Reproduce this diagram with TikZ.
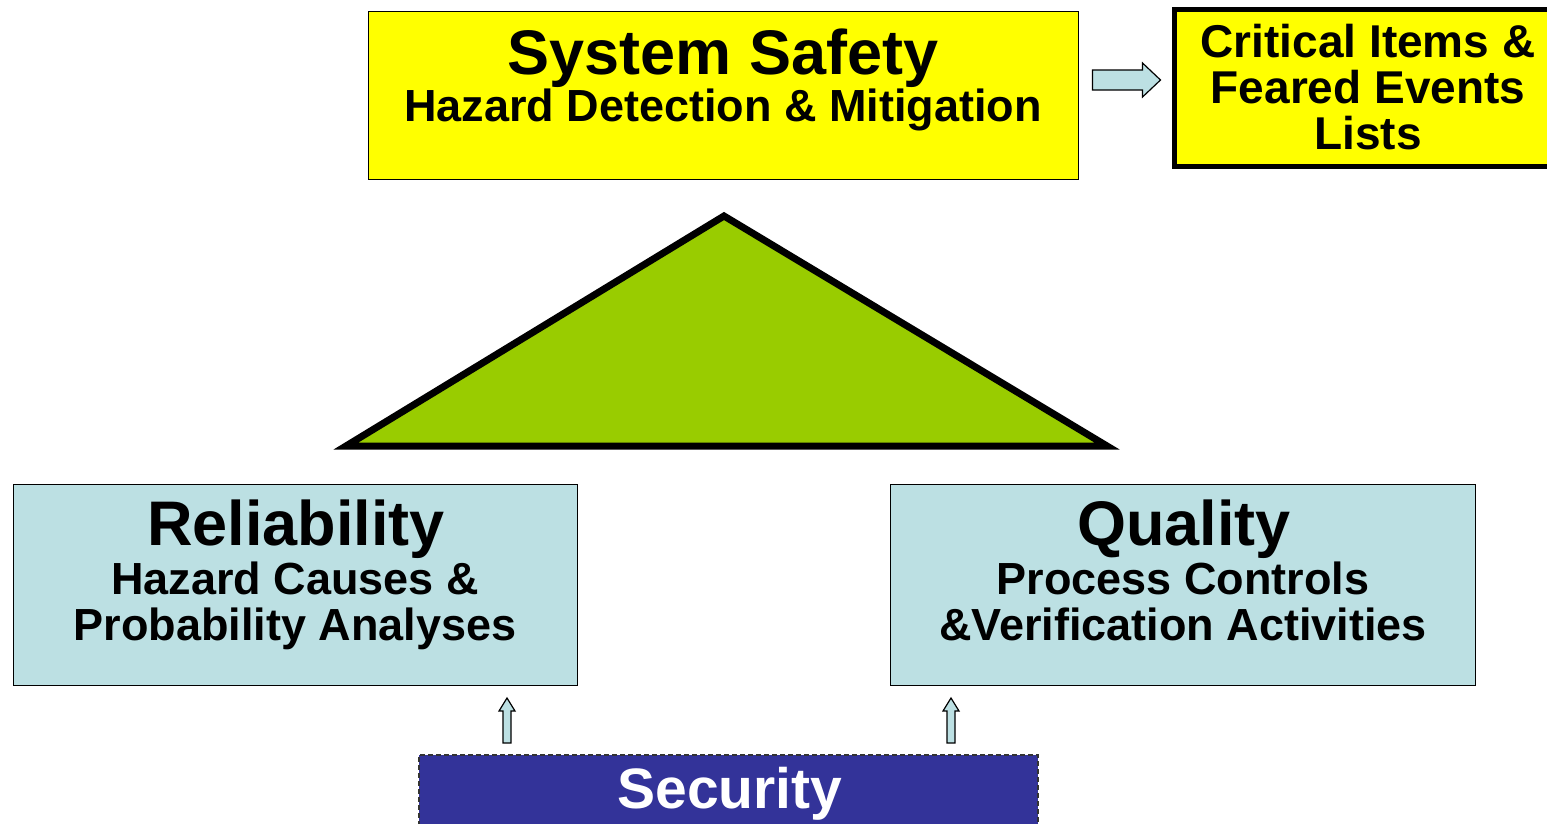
\documentclass[tikz,border=0pt]{standalone}
\usepackage{fontspec}
\setmainfont{Liberation Sans}
\usetikzlibrary{calc}
\definecolor{ssyellow}{HTML}{FFFF00}
\definecolor{trigreen}{HTML}{99CC00}
\definecolor{lblue}{HTML}{BCE0E3}
\definecolor{secblue}{HTML}{333399}
\tikzset{
  box/.style={draw=black, line width=1pt, inner sep=0pt, rectangle},
  txt/.style={anchor=base, inner sep=0pt, font=\bfseries},
  barrow/.style={draw=black, line width=1.2pt, fill=lblue, line join=miter},
}
\newcommand\fsz[1]{\fontsize{#1}{#1}\selectfont}
\begin{document}
\begin{tikzpicture}[x=1pt,y=-1pt]
\useasboundingbox (0,0) rectangle (1547,823);
% boxes
\node[box, fill=ssyellow, minimum width=710pt, minimum height=168pt] (ss) at (723,95) {};
\node[box, fill=ssyellow, line width=5pt, minimum width=378pt, minimum height=157pt] (cil) at (1363,87.5) {};
\node[box, fill=lblue, minimum width=564pt, minimum height=201pt] (rel) at (295,584.5) {};
\node[box, fill=lblue, minimum width=585pt, minimum height=201pt] (qual) at (1182.5,584.5) {};
\node[box, fill=secblue, draw=black!80, line width=1.5pt, dash pattern=on 5pt off 3pt, minimum width=619pt, minimum height=80pt] (sec) at (728.5,795) {};
% triangle
\coordinate (apex) at (724,216);
\coordinate (bl) at (346,446);
\coordinate (br) at (1107,446);
\draw[line width=7pt, fill=trigreen, line join=miter] (apex) -- (br) -- (bl) -- cycle;
% texts
\node[txt, font=\bfseries\fsz{63}] (t1) at (723,74) {System Safety};
\node[txt, font=\bfseries\fsz{45}] (t2) at (723,121) {Hazard Detection \& Mitigation};
\node[txt, font=\bfseries\fsz{46}] (c1) at (1368,57) {Critical Items \&};
\node[txt, font=\bfseries\fsz{46}] (c2) at (1368,103) {Feared Events};
\node[txt, font=\bfseries\fsz{46}] (c3) at (1368,149) {Lists};
\node[txt, font=\bfseries\fsz{63}] (r1) at (296,545) {Reliability};
\node[txt, font=\bfseries\fsz{45}] (r2) at (295,594) {Hazard Causes \&};
\node[txt, font=\bfseries\fsz{45}] (r3) at (295,640) {Probability Analyses};
\node[txt, font=\bfseries\fsz{63}] (q1) at (1184,545) {Quality};
\node[txt, font=\bfseries\fsz{45}] (q2) at (1183,594) {Process Controls};
\node[txt, font=\bfseries\fsz{45}] (q3) at (1183,640) {\&Verification Activities};
\node[txt, font=\bfseries\fsz{57}, text=white] (s1) at (730,808) {Security};
% arrows
\coordinate (ra) at ($(ss.east)+(14,-15)$);
\draw[barrow] (ra) ++(0,-10) -- ++(50,0) -- ++(0,-7) -- ++(18,17) -- ++(-18,17) -- ++(0,-7) -- ++(-50,0) -- cycle;
\coordinate (u1) at (507,743);
\coordinate (u2) at (951,743);
\draw[barrow] (u1) ++(-4,0) -- ++(0,-32) -- ++(-4,0) -- ++(8,-13) -- ++(8,13) -- ++(-4,0) -- ++(0,32) -- cycle;
\draw[barrow] (u2) ++(-4,0) -- ++(0,-32) -- ++(-4,0) -- ++(8,-13) -- ++(8,13) -- ++(-4,0) -- ++(0,32) -- cycle;
\end{tikzpicture}
\end{document}
